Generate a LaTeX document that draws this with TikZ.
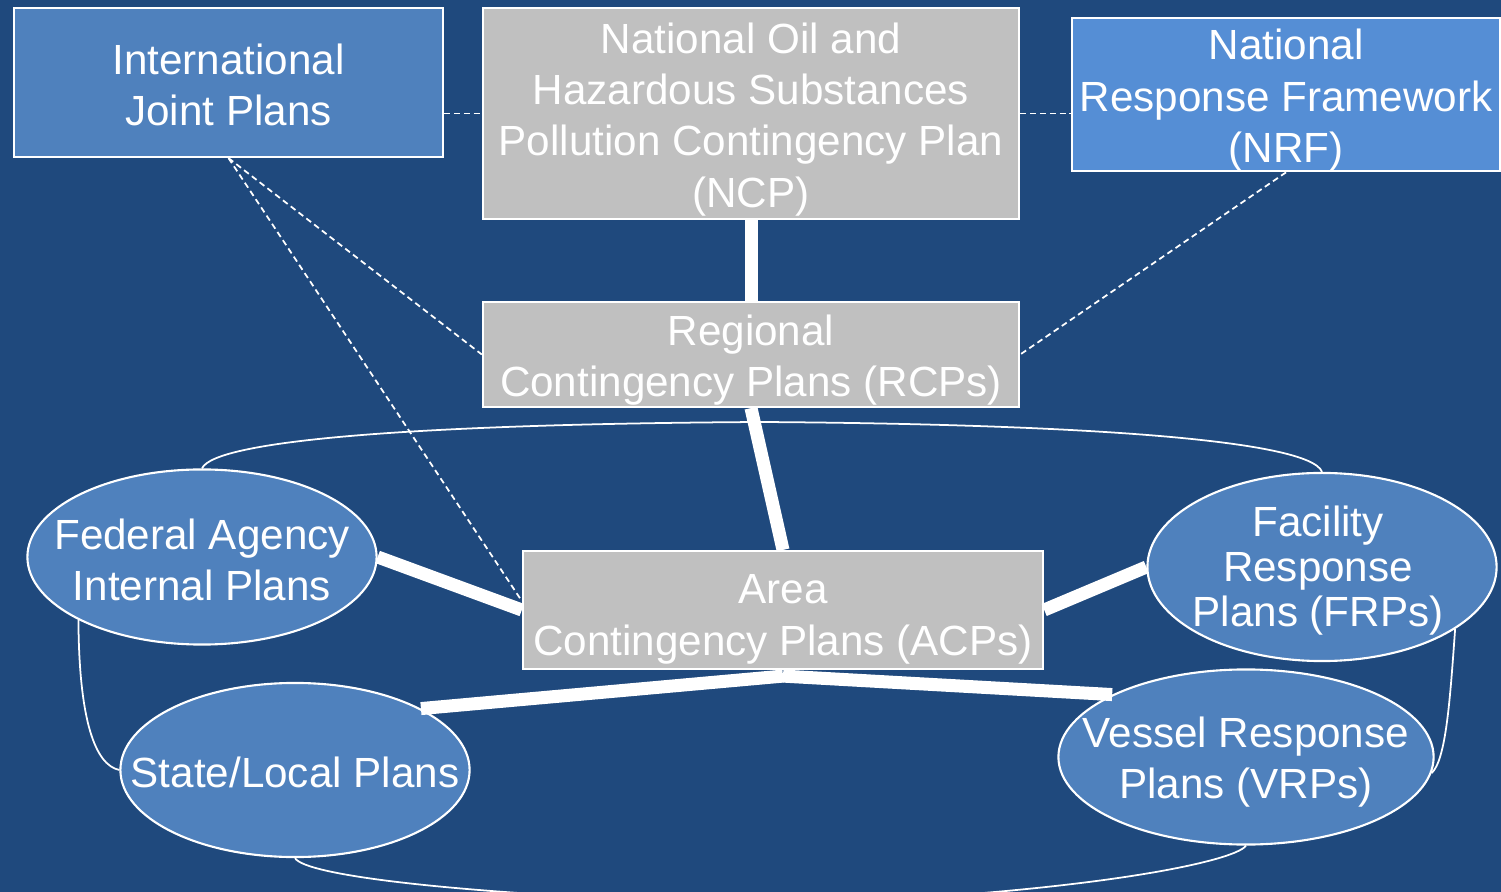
\documentclass[tikz,border=0pt]{standalone}
\usepackage{fontspec}
\setmainfont{Liberation Sans}
\usetikzlibrary{shapes.geometric}
\definecolor{bgblue}{HTML}{1F497D}
\definecolor{jointblue}{HTML}{4F81BD}
\definecolor{nrfblue}{HTML}{558ED5}
\definecolor{plangray}{HTML}{C0C0C0}
\begin{document}
\begin{tikzpicture}[x=0.01cm,y=-0.01cm,
	every node/.style={text=white,font=\fontsize{12}{14.6}\selectfont,align=center,inner sep=0pt},
	planbox/.style={rectangle,draw=white,line width=0.6pt,fill=plangray},
	planoval/.style={ellipse,draw=white,line width=0.6pt,fill=jointblue,minimum width=3.49cm},
	link/.style={white,line width=3.7pt},
	tie/.style={white,line width=0.5pt,dash pattern=on 1.7pt off 1.1pt},
	wrap/.style={white,line width=0.5pt}]
\fill[bgblue] (0,0) rectangle (1501,892);
\useasboundingbox (0,0) rectangle (1501,892);
% boxes
\node[planbox,fill=jointblue,minimum width=4.29cm,minimum height=1.49cm] (ijp) at (228.5,82.5)
	{\rule{0pt}{10pt}International\\Joint Plans};
\node[planbox,minimum width=5.36cm,minimum height=2.11cm] (ncp) at (751,113.5)
	{\rule{0pt}{12pt}National Oil and\\Hazardous Substances\\Pollution Contingency Plan\\(NCP)};
\node[planbox,fill=nrfblue,minimum width=4.28cm,minimum height=1.49cm] (nrf) at (1286,94.5)
	{\rule{0pt}{12pt}National\\Response Framework\\(NRF)};
\node[planbox,minimum width=5.36cm,minimum height=1.05cm] (rcp) at (751,354.5)
	{\rule{0pt}{12pt}Regional\\Contingency Plans (RCPs)};
\node[planbox,minimum width=5.2cm,minimum height=1.18cm] (acp) at (783,610)
	{\rule{0pt}{13.5pt}Area\\Contingency Plans (ACPs)};
% ellipses
\node[planoval,minimum height=1.75cm] (fed) at (202,557) {};
\node[planoval,minimum height=1.88cm] (fac) at (1322,567) {};
\node[planoval,minimum height=1.74cm] (sta) at (295,770) {};
\node[planoval,minimum width=3.75cm,minimum height=1.75cm] (ves) at (1246,757) {};
\node (fed-t) at ([yshift=-0.03cm]fed) {Federal Agency\\Internal Plans};
\node[font=\fontsize{12}{12.9}\selectfont] (fac-t) at ([xshift=-0.04cm,yshift=-0.035cm]fac) {Facility\\Response\\Plans (FRPs)};
\node (sta-t) at ([yshift=-0.02cm]sta) {State/Local Plans};
\node (ves-t) at ([yshift=-0.05cm]ves) {Vessel Response\\Plans (VRPs)};
% thin curves round the ovals
\draw[wrap] (fed.north) .. controls (215,440) and (420,424) .. (760,422)
	.. controls (1080,424) and (1310,440) .. (fac.north);
\draw[wrap] (fed.207) .. controls (79,720) and (95,765) .. (sta.west);
\draw[wrap] (fac.335) .. controls (1450,700) and (1446,760) .. (ves.-5);
\draw[wrap] (sta.south) .. controls (305,875) and (450,895) .. (770,905)
	.. controls (1080,895) and (1235,862) .. (ves.south);
% dashed ties
\draw[tie] (ijp.east |- ncp.west) -- (ncp.west);
\draw[tie] (ncp.east) -- (ncp.east -| nrf.west);
\draw[tie] (ijp.south) -- (rcp.west);
\draw[tie] (ijp.south) -- ([yshift=0.09cm]acp.west);
\draw[tie] (nrf.south) -- (rcp.east);
% thick links
\draw[link] (ncp.south) -- (rcp.north);
\draw[link] (rcp.south) -- (acp.north);
\draw[link] (fed.east) -- (acp.west);
\draw[link] (acp.east) -- (fac.west);
\draw[link] ([yshift=-0.06cm]acp.south) -- (sta.26);
\draw[link] ([yshift=-0.06cm]acp.south) -- (ves.155);
\end{tikzpicture}
\end{document}
